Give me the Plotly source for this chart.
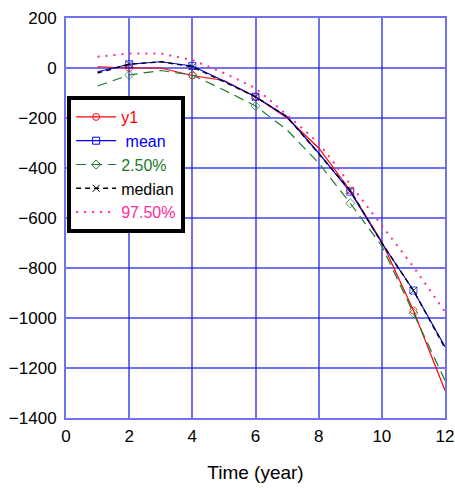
import plotly.graph_objects as go

x = [1, 2, 3, 4, 5, 6, 7, 8, 9, 10, 11, 12]
y1 = [5, 0, 0, -30, -50, -115, -200, -320, -490, -695, -970, -1290]
mean = [-15, 15, 25, 8, -52, -115, -195, -340, -495, -700, -890, -1115]
p025 = [-72, -28, -10, -28, -88, -152, -248, -380, -541, -712, -980, -1250]
median = [-20, 15, 25, 5, -55, -115, -195, -342, -490, -700, -890, -1120]
p975 = [45, 58, 58, 32, -20, -80, -188, -300, -465, -630, -795, -975]
marker_x = [2, 4, 6, 9, 11]

xticks = [0, 2, 4, 6, 8, 10, 12]
yticks = [200, 0, -200, -400, -600, -800, -1000, -1200, -1400]

def msizes(xs):
    return [7 if v in marker_x else 0 for v in xs]

series = [
    ("y1", y1, "red", "solid", "circle-open", 1.2, True),
    ("mean", mean, "blue", "solid", "square-open", 1.2, True),
    ("2.50%", p025, "#1a7a2a", "10px,6px", "diamond-open", 1.2, True),
    ("median", median, "black", "5px,4px", "x-thin-open", 1.4, True),
    ("97.50%", p975, "#ff2a9a", "2px,6px", "circle-open", 2, False),
]

fig = go.Figure()
for name, ys, col, dash, sym, w, has_m in series:
    sizes = msizes(x) if has_m else [0] * len(x)
    fig.add_trace(go.Scatter(
        x=x, y=ys, showlegend=False, mode="lines+markers",
        line=dict(color=col, dash=dash, width=w),
        marker=dict(symbol=sym, size=sizes, color=col, line=dict(color=col, width=1)),
    ))
for name, ys, col, dash, sym, w, has_m in series:
    label = f"<span style='color:{col}'>{(' ' if name=='mean' else '') + name}</span>"
    fig.add_trace(go.Scatter(
        x=[None], y=[None], name=label, mode="lines+markers" if has_m else "lines",
        line=dict(color=col, dash=dash, width=w),
        marker=dict(symbol=sym, size=7, color=col, line=dict(color=col, width=1)),
    ))

gridc = "rgba(20,20,230,0.6)"
fig.update_layout(
    width=455, height=488,
    margin=dict(l=66, r=10, t=18, b=70),
    paper_bgcolor="white", plot_bgcolor="white",
    font=dict(family="Liberation Sans, Arial", size=17, color="black"),
    showlegend=True,
    legend=dict(x=0.003, y=0.805, xanchor="left", yanchor="top",
                bordercolor="black", borderwidth=4, bgcolor="white",
                font=dict(size=16), itemwidth=40, tracegroupgap=0),
    xaxis=dict(range=[0, 12], tickvals=xticks, showgrid=True, gridcolor=gridc, gridwidth=2,
               showline=True, linecolor=gridc, linewidth=2, mirror=True, zeroline=False,
               ticks="", ticklabelstandoff=2, automargin=False,
               title=dict(text="Time (year)", standoff=20, font=dict(size=19))),
    yaxis=dict(range=[-1400, 200], tickvals=yticks, showgrid=True, gridcolor=gridc, gridwidth=2,
               showline=True, linecolor=gridc, linewidth=2, mirror=True, zeroline=False,
               ticks="", ticklabelstandoff=4, automargin=False),
)
fig.write_html("out.html")
